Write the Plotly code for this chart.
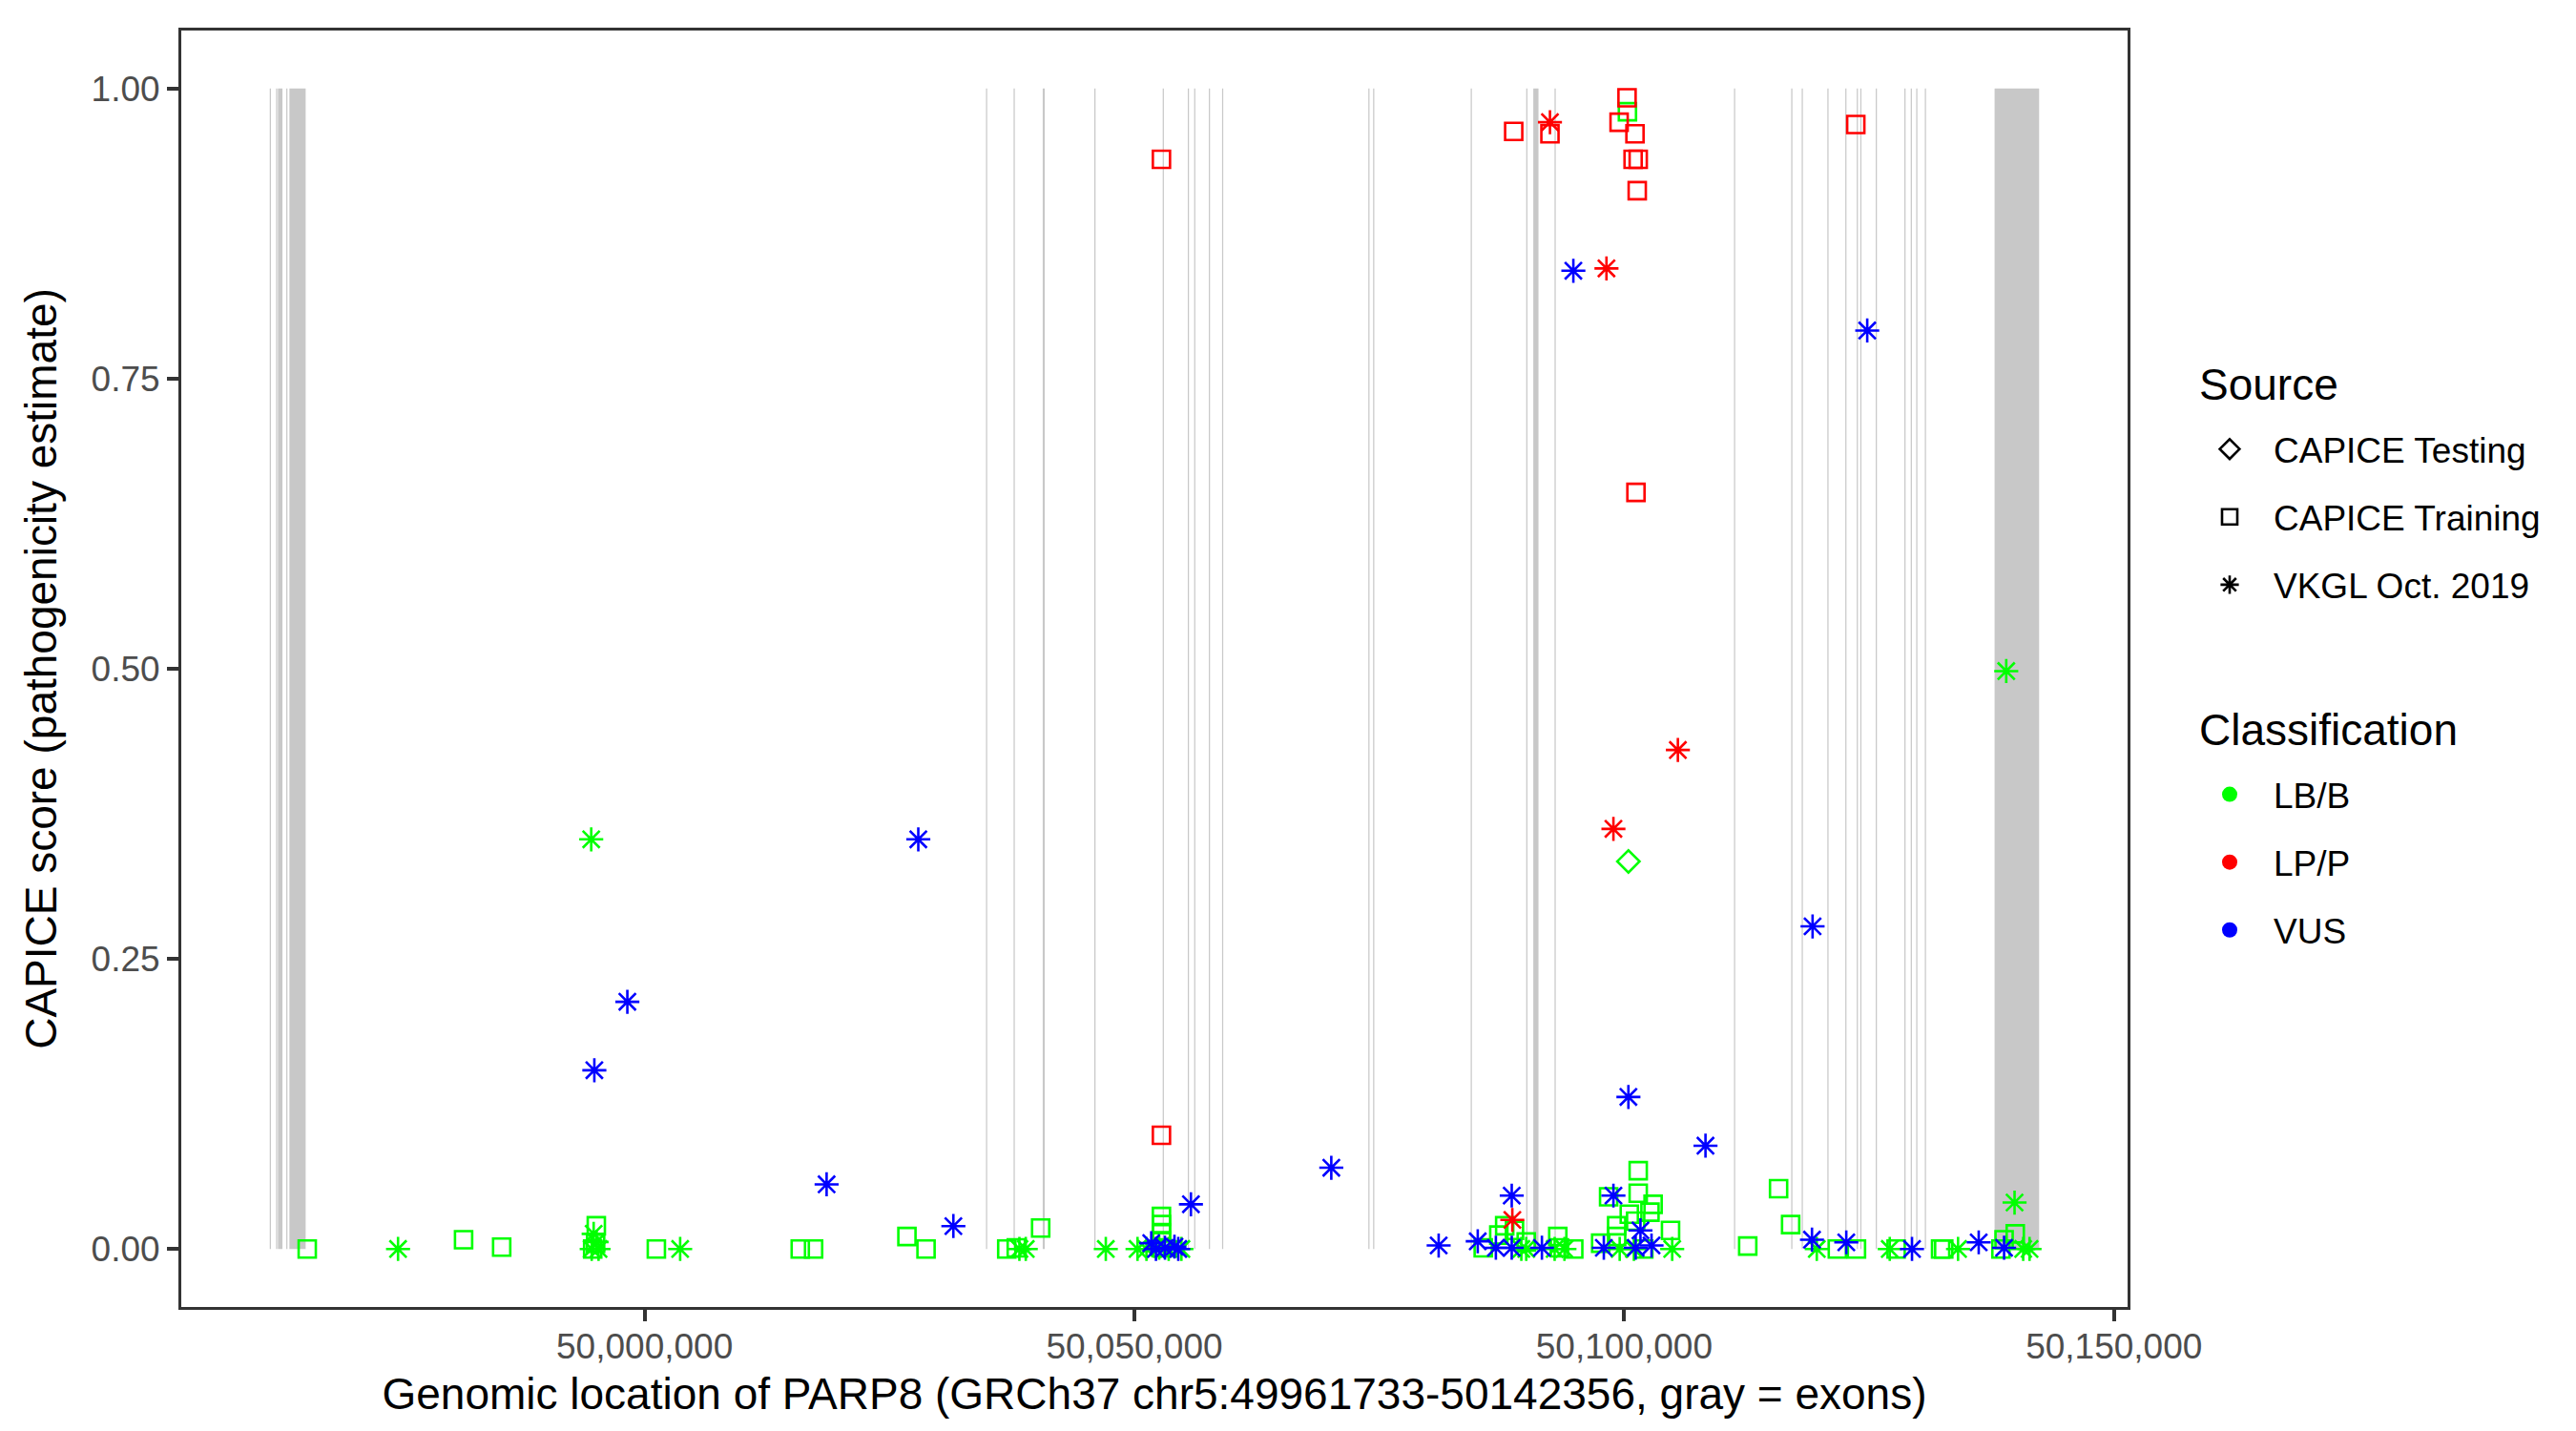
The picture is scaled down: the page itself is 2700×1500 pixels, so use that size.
import plotly.graph_objects as go

# ---------------- data ----------------
gene_start = 49961733
gene_end = 50142356

exon_start = [49961733, 49962380, 49962570, 49963420, 49963740, 50034850, 50037670,
              50040640, 50045910, 50052890, 50055450, 50056100, 50057600, 50058950,
              50073880, 50074370, 50084330, 50090000, 50090720, 50092890, 50111210,
              50117050, 50118120, 50120740, 50122570, 50123740, 50124100, 50125680,
              50128600, 50129250, 50129810, 50130690, 50137810]
exon_end = [49961860, 49962500, 49963030, 49963540, 49965400, 50034970, 50037790,
            50040850, 50046030, 50053010, 50055570, 50056220, 50057720, 50059070,
            50074000, 50074490, 50084450, 50090120, 50091250, 50093010, 50111330,
            50117170, 50118240, 50120860, 50122690, 50123860, 50124220, 50125800,
            50128720, 50129370, 50129930, 50130810, 50142356]

# CAPICE Training, LB/B
train_lbb_pos = [49965560, 49981520, 49985410, 49995070, 49995000, 49994700, 50001200,
                 50015890, 50017250, 50026780, 50028730, 50036970, 50037940, 50040430,
                 50052760, 50052760, 50052760, 50052760, 50052760,
                 50085610, 50087800, 50087200, 50088800, 50090000, 50093220, 50093390,
                 50094850, 50097600, 50098410, 50099230, 50099230, 50100520, 50101170,
                 50101430, 50101430, 50102950, 50102630, 50102000, 50104730, 50112610,
                 50115760, 50116990, 50121760, 50123710, 50127760, 50132300, 50132620,
                 50139920, 50138780, 50138460, 50100330]
train_lbb_score = [0.0, 0.008, 0.0016, 0.020, 0.005, 0.0, 0.0,
                   0.0, 0.0, 0.0107, 0.0, 0.0, 0.001, 0.018,
                   0.028, 0.021, 0.014, 0.007, 0.001,
                   0.001, 0.020, 0.012, 0.016, 0.006, 0.0107, 0.001,
                   0.0, 0.005, 0.045, 0.020, 0.0107, 0.030, 0.024,
                   0.0675, 0.048, 0.0385, 0.0317, 0.0, 0.016, 0.0025,
                   0.052, 0.021, 0.0, 0.0, 0.0, 0.0, 0.0,
                   0.013, 0.008, 0.0, 0.980]

# CAPICE Training, LP/P
train_lpp_pos = [50052760, 50052760, 50088720, 50092420, 50099480, 50100290, 50101100,
                 50100910, 50101430, 50101330, 50123640, 50101200]
train_lpp_score = [0.939, 0.098, 0.963, 0.961, 0.971, 0.992, 0.961,
                   0.939, 0.939, 0.912, 0.969, 0.652]

# CAPICE Testing, LB/B
test_lbb_pos = [50100430]
test_lbb_score = [0.334]

# VKGL Oct. 2019, LB/B
vkgl_lbb_pos = [49974830, 49994550, 49994800, 49995100, 49994600, 49995300, 50003630,
                50038260, 50038910, 50047080, 50050320, 50051230, 50052530, 50053500,
                50054800, 50089500, 50090000, 50092900, 50093900, 50099540, 50100990,
                50104900, 50119660, 50127110, 50134080, 50140730, 50141380, 50139850,
                50139000]
vkgl_lbb_score = [0.0, 0.353, 0.013, 0.006, 0.0, 0.0, 0.0,
                  0.0, 0.0, 0.0, 0.0, 0.0, 0.001, 0.0,
                  0.0, 0.0, 0.0, 0.0, 0.0, 0.0, 0.0,
                  0.0, 0.0, 0.0, 0.0, 0.0, 0.0, 0.040,
                  0.498]

# VKGL Oct. 2019, VUS
vkgl_vus_pos = [50094810, 50124810, 50119230, 50100430, 50108300, 50027940, 49998240,
                49994870, 50018580, 50031520, 50055770, 50070100, 50051720, 50052200,
                50053120, 50054090, 50054480, 50081060, 50085050, 50086900, 50088520,
                50088520, 50091600, 50097920, 50098900, 50101660, 50102790, 50101170,
                50119170, 50122670, 50129380, 50136190, 50138780]
vkgl_vus_score = [0.843, 0.7915, 0.278, 0.131, 0.089, 0.353, 0.213,
                  0.154, 0.0557, 0.0197, 0.0385, 0.070, 0.005, 0.0,
                  0.001, 0.002, 0.0, 0.003, 0.0066, 0.001, 0.001,
                  0.046, 0.001, 0.001, 0.046, 0.016, 0.003, 0.001,
                  0.008, 0.0057, 0.0, 0.0057, 0.001]

# VKGL Oct. 2019, LP/P
vkgl_lpp_pos = [50092420, 50098190, 50105480, 50098900, 50088580]
vkgl_lpp_score = [0.971, 0.845, 0.430, 0.362, 0.025]

source_labels = ["CAPICE Testing", "CAPICE Training", "VKGL Oct. 2019"]
class_labels = ["LB/B", "LP/P", "VUS"]
x_tickvals = [50000000, 50050000, 50100000, 50150000]
y_tickvals = [0.0, 0.25, 0.5, 0.75, 1.0]

# ---------------- styles ----------------
COL = {"LB/B": "#00FF00", "LP/P": "#FF0000", "VUS": "#0000FF"}
SYM = {"CAPICE Testing": "diamond-open", "CAPICE Training": "square-open",
       "VKGL Oct. 2019": "asterisk-open"}
SIZE = {"CAPICE Testing": 18, "CAPICE Training": 18, "VKGL Oct. 2019": 21}
FONT = "Liberation Sans, Arial, sans-serif"

fig = go.Figure()

groups = [
    (train_lbb_pos, train_lbb_score, "CAPICE Training", "LB/B"),
    (vkgl_lbb_pos, vkgl_lbb_score, "VKGL Oct. 2019", "LB/B"),
    (test_lbb_pos, test_lbb_score, "CAPICE Testing", "LB/B"),
    (vkgl_vus_pos, vkgl_vus_score, "VKGL Oct. 2019", "VUS"),
    (train_lpp_pos, train_lpp_score, "CAPICE Training", "LP/P"),
    (vkgl_lpp_pos, vkgl_lpp_score, "VKGL Oct. 2019", "LP/P"),
]
for xs, ys, src, cls in groups:
    fig.add_trace(go.Scatter(
        x=xs, y=ys, mode="markers", showlegend=False, hoverinfo="x+y",
        marker=dict(symbol=SYM[src], size=SIZE[src], color=COL[cls],
                    line=dict(width=2.6, color=COL[cls])),
    ))

# exons as gray rectangles
for s, e in zip(exon_start, exon_end):
    fig.add_shape(type="rect", xref="x", yref="y", x0=s, x1=e, y0=0, y1=1,
                  fillcolor="#C8C8C8", line=dict(width=0), layer="below")

# legend entries
for i, src in enumerate(source_labels):
    fig.add_trace(go.Scatter(
        x=[None], y=[None], mode="markers", name=src, legend="legend",
        legendgroup="s%d" % i,
        marker=dict(symbol=SYM[src], size=16, color="black",
                    line=dict(width=2.6, color="black")),
    ))
for i, cls in enumerate(class_labels):
    fig.add_trace(go.Scatter(
        x=[None], y=[None], mode="markers", name=cls, legend="legend2",
        legendgroup="c%d" % i,
        marker=dict(symbol="circle", size=16, color=COL[cls]),
    ))

x_min = gene_start - 0.05 * (gene_end - gene_start)
x_max = gene_end + 0.05 * (gene_end - gene_start)

axis_common = dict(
    showgrid=False, zeroline=False, showline=True, mirror=True,
    linecolor="#333333", linewidth=3, ticks="outside", ticklen=12,
    tickwidth=4, tickcolor="#333333",
    tickfont=dict(family=FONT, size=37, color="#4D4D4D"),
)

legend_common = dict(
    font=dict(family=FONT, size=37, color="black"),
    x=1.0299, xanchor="left", yanchor="top",
    traceorder="grouped", tracegroupgap=20, itemwidth=82,
    bgcolor="rgba(0,0,0,0)",
)

fig.update_layout(
    width=2700, height=1500, autosize=False,
    margin=dict(l=182, r=478, t=24, b=138),
    paper_bgcolor="white", plot_bgcolor="white",
    font=dict(family=FONT, color="black"),
    xaxis=dict(
        range=[x_min, x_max], tickvals=x_tickvals, tickformat=",d",
        ticklabelstandoff=-5,
        title=dict(text="Genomic location of PARP8 (GRCh37 chr5:49961733-50142356, gray = exons)",
                   font=dict(family=FONT, size=46, color="black"), standoff=14),
        **axis_common,
    ),
    yaxis=dict(
        range=[-0.05, 1.05], tickvals=y_tickvals, tickformat=".2f",
        title=dict(text="CAPICE score (pathogenicity estimate)",
                   font=dict(family=FONT, size=46, color="black"), standoff=22),
        **axis_common,
    ),
    legend=dict(y=0.6950, **legend_common),
    legend2=dict(y=0.4245, **legend_common),
    annotations=[
        dict(text="Source", xref="paper", yref="paper", x=1.0358, y=0.7225,
             xanchor="left", yanchor="middle", showarrow=False,
             font=dict(family=FONT, size=46, color="black")),
        dict(text="Classification", xref="paper", yref="paper", x=1.0358, y=0.4520,
             xanchor="left", yanchor="middle", showarrow=False,
             font=dict(family=FONT, size=46, color="black")),
    ],
)

fig.write_html("out.html")
